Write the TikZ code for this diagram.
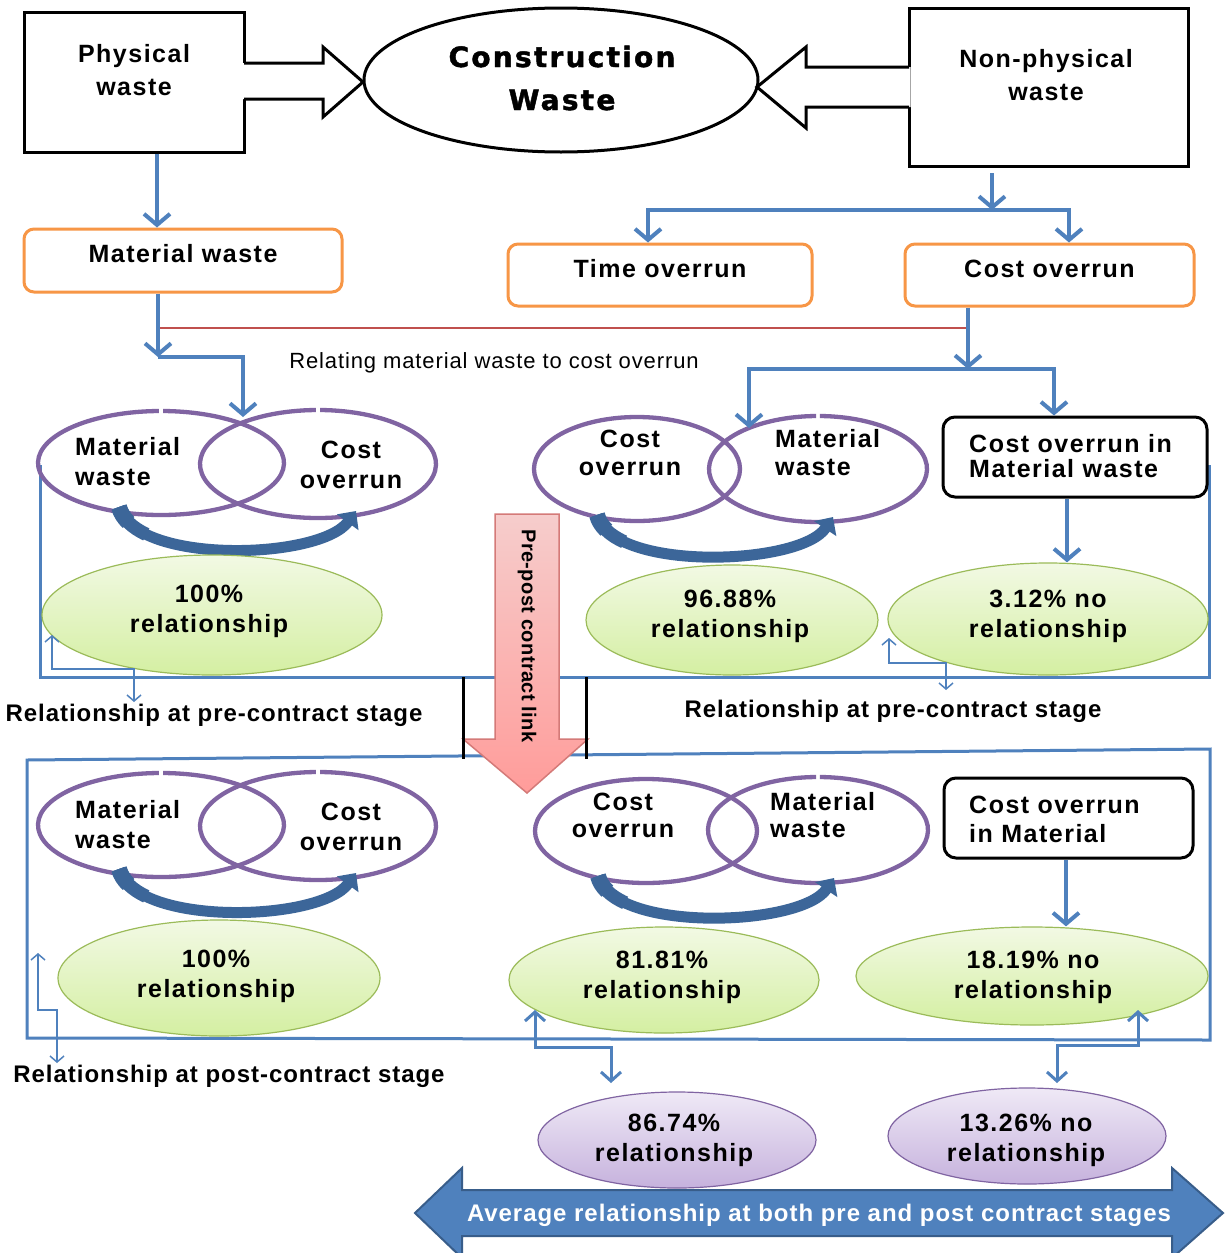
\documentclass[tikz,border=0pt]{standalone}
\usepackage{fontspec}
\setmainfont{Liberation Sans}
\newfontfamily\lsans[LetterSpace=6]{Liberation Sans}
\newfontfamily\lsansb[LetterSpace=4]{Liberation Sans}
\newfontfamily\lsansc[LetterSpace=2]{Liberation Sans}
\newfontfamily\heavyfont[LetterSpace=8,FakeBold=1.6]{DejaVu Sans}
\usetikzlibrary{arrows.meta,shapes.geometric}

\definecolor{conblue}{HTML}{4F81BD}
\definecolor{darkblue}{HTML}{385D8A}
\definecolor{arcblue}{HTML}{3C6699}
\definecolor{offorange}{HTML}{F79646}
\definecolor{vennpurple}{HTML}{8064A2}
\definecolor{linkred}{HTML}{C0504D}
\definecolor{greenline}{HTML}{9BBB59}
\definecolor{greentop}{HTML}{F2F9E4}
\definecolor{greenbot}{HTML}{D4EFA2}
\definecolor{lilactop}{HTML}{EFE9F6}
\definecolor{lilacbot}{HTML}{C6B2DD}
\definecolor{pinktop}{HTML}{F6CDCC}
\definecolor{pinkbot}{HTML}{FF9C9A}
\definecolor{pinkline}{HTML}{D47A78}

% two stacked lines; the node baseline is the first line's baseline
\newcommand\twoline[3]{\begin{tabular}[t]{@{}#1@{}}#2\\#3\end{tabular}}

\tikzset{
  txt/.style={inner sep=0pt, anchor=base, font=\lsans\bfseries\fontsize{25}{#1}\selectfont},
  txt/.default=30,
  lab/.style={inner sep=0pt, anchor=base, font=\lsansb\bfseries\fontsize{24}{28}\selectfont},
  blackbox/.style={draw=black, line width=3pt, inner sep=0pt},
  orangebox/.style={draw=offorange, line width=3pt, rounded corners=10pt, inner sep=0pt,
    text height=18pt, text depth=14pt, font=\lsans\bfseries\fontsize{25}{30}\selectfont},
  roundbox/.style={draw=black, line width=3pt, rounded corners=12pt, fill=white, inner sep=0pt},
  conn/.style={draw=conblue, line width=4pt, -{Straight Barb[length=11pt,width=26pt]}},
  thinarr/.style={draw=conblue, line width=1.5pt,
    {Straight Barb[length=6pt,width=14pt]}-{Straight Barb[length=6pt,width=14pt]}},
  medarr/.style={draw=conblue, line width=3pt,
    {Straight Barb[length=9pt,width=20pt]}-{Straight Barb[length=9pt,width=20pt]}},
  venn/.style={draw=vennpurple, line width=4.3pt},
  curv/.style={draw=arcblue, line width=11pt, -{Triangle[length=14pt,width=26pt]}},
  greenell/.style={ellipse, draw=greenline, line width=1.2pt, top color=greentop,
    bottom color=greenbot, inner sep=0pt},
  lilacell/.style={ellipse, draw=vennpurple, line width=1.2pt, top color=lilactop,
    bottom color=lilacbot, inner sep=0pt},
  stagebox/.style={draw=conblue, line width=3pt}
}

% curved link under a Venn pair, widening towards its start
\newcommand\linkarcA{%
  \draw[draw=arcblue, line width=16pt] (119,507) .. controls (120.6,512.8) and (123.9,518.0) .. (128.6,522.5);
  \draw[draw=arcblue, line width=13.5pt] (119,507) .. controls (122.2,518.6) and (132.2,527.7) .. (146.3,534.4);
  \draw[curv] (119,507) .. controls (135,565) and (320,560) .. (356,511);}
\newcommand\linkarcB{%
  \draw[draw=arcblue, line width=16pt] (597,515) .. controls (598.5,520.7) and (601.7,525.8) .. (606.4,530.2);
  \draw[draw=arcblue, line width=13.5pt] (597,515) .. controls (600,526.4) and (609.9,535.3) .. (624.1,541.8);
  \draw[curv] (597,515) .. controls (612,572) and (800,566) .. (833,517);}

\begin{document}
\begin{tikzpicture}[x=1pt, y=-1pt]
\useasboundingbox[fill=white] (0,0) rectangle (1225,1253);

% stage frames
\draw[stagebox] (40,465) -- (40,677) -- (1209,677) -- (1209,465);
\draw[stagebox] (27,760) -- (1210,749) -- (1210,1040) -- (27,1038) -- cycle;

% link between the two stages
\path[top color=pinktop, bottom color=pinkbot, draw=pinkline, line width=1.5pt]
  (495,514) -- (559,514) -- (559,739) -- (588,739) -- (527,793) -- (463,739) -- (495,739) -- cycle;
\node[rotate=-90, inner sep=0pt, font=\lsansc\bfseries\fontsize{20}{24}\selectfont] (link) at (527,636) {Pre-post contract link};
\draw[line width=3pt] (463,677) -- (463,759);
\draw[line width=3pt] (586,677) -- (586,759);

% top row
\node[blackbox, minimum width=220pt, minimum height=140pt] (pw) at (134,82) {};
\node[txt=33] (pwt) at (134,62) {\twoline{c}{Physical}{waste}};
\node[blackbox, minimum width=279pt, minimum height=158pt] (npw) at (1048.5,87) {};
\node[txt=33] (npwt) at (1046,67) {\twoline{c}{Non-physical}{waste}};

\fill[white] (242,63) -- (323,63) -- (323,47) -- (363,82) -- (323,117) -- (323,99) -- (242,99) -- cycle;
\draw[line width=3pt, line join=miter] (244,63) -- (323,63) -- (323,47) -- (363,82) -- (323,117) -- (323,99) -- (244,99);
\fill[white] (910.5,67) -- (806,67) -- (806,47) -- (757,87) -- (806,128) -- (806,107) -- (910.5,107) -- cycle;
\draw[line width=3pt, line join=miter] (909,67) -- (806,67) -- (806,47) -- (757,87) -- (806,128) -- (806,107) -- (909,107);

\node[ellipse, draw=black, line width=3pt, minimum width=394pt, minimum height=144pt, inner sep=0pt] (cw) at (561,80) {};
\node[inner sep=0pt, anchor=base, font=\heavyfont\bfseries\fontsize{28}{43}\selectfont] (cwt) at (562,67) {\twoline{c}{Construction}{Waste}};

% second row
\node[orangebox, minimum width=318pt, minimum height=63pt] (mw) at (183,260.5) {Material waste};
\node[orangebox, minimum width=304pt, minimum height=62pt] (to) at (660,275) {Time overrun};
\node[orangebox, minimum width=289pt, minimum height=62pt] (co) at (1049.5,275) {Cost overrun};

\node[lab, font=\lsansb\fontsize{22}{26}\selectfont] (rel) at (494,368) {Relating material waste to cost overrun};

% pre-contract stage
\draw[venn] (161,463) ++(271:123 and 52) arc[start angle=271, end angle=629, x radius=123, y radius=52];
\draw[venn] (318,464) ++(271:118 and 54) arc[start angle=271, end angle=629, x radius=118, y radius=54];
\linkarcA
\node[txt, anchor=base west] (v1a) at (75,455) {\twoline{l}{Material}{waste}};
\node[txt] (v1b) at (351,458) {\twoline{c}{Cost}{overrun}};

\draw[venn] (637,469) ellipse[x radius=103, y radius=52];
\draw[venn] (818,469) ++(271:109 and 53) arc[start angle=271, end angle=629, x radius=109, y radius=53];
\linkarcB
\node[txt=28] (v2a) at (630,447) {\twoline{c}{Cost}{overrun}};
\node[txt=28, anchor=base west] (v2b) at (775,447) {\twoline{l}{Material}{waste}};

\node[roundbox, minimum width=264pt, minimum height=80pt] (cb1) at (1075,457) {};
\node[txt=25, anchor=base west] (cb1t) at (969,452) {\twoline{l}{Cost overrun in}{Material waste}};

\node[greenell, minimum width=340pt, minimum height=120pt] (g1) at (212,615) {};
\node[txt] (g1t) at (209,602) {\twoline{c}{100\%}{relationship}};
\node[greenell, minimum width=292pt, minimum height=110pt] (g2) at (732,620) {};
\node[txt] (g2t) at (730,607) {\twoline{c}{96.88\%}{relationship}};
\node[greenell, minimum width=320pt, minimum height=112pt] (g3) at (1048,619) {};
\node[txt] (g3t) at (1048,607) {\twoline{c}{3.12\% no}{relationship}};

\node[lab] (pre1) at (214,721) {Relationship at pre-contract stage};
\node[lab] (pre2) at (893,717) {Relationship at pre-contract stage};

% post-contract stage
\draw[venn] (161,825) ++(271:123 and 52) arc[start angle=271, end angle=629, x radius=123, y radius=52];
\draw[venn] (318,826) ++(271:118 and 54) arc[start angle=271, end angle=629, x radius=118, y radius=54];
\begin{scope}[shift={(0,362)}]
  \linkarcA
\end{scope}
\node[txt, anchor=base west] (v3a) at (75,818) {\twoline{l}{Material}{waste}};
\node[txt] (v3b) at (351,820) {\twoline{c}{Cost}{overrun}};

\draw[venn] (646,831) ellipse[x radius=111, y radius=52];
\draw[venn] (818,830) ++(271:110 and 53) arc[start angle=271, end angle=629, x radius=110, y radius=53];
\begin{scope}[shift={(1,361)}]
  \linkarcB
\end{scope}
\node[txt=27] (v4a) at (623,810) {\twoline{c}{Cost}{overrun}};
\node[txt=27, anchor=base west] (v4b) at (770,810) {\twoline{l}{Material}{waste}};

\node[roundbox, minimum width=249pt, minimum height=80pt] (cb2) at (1068.5,818) {};
\node[txt=29, anchor=base west] (cb2t) at (969,813) {\twoline{l}{Cost overrun}{in Material}};

\node[greenell, minimum width=322pt, minimum height=116pt] (g4) at (219,978) {};
\node[txt] (g4t) at (216,967) {\twoline{c}{100\%}{relationship}};
\node[greenell, minimum width=310pt, minimum height=106pt] (g5) at (664,980) {};
\node[txt] (g5t) at (662,968) {\twoline{c}{81.81\%}{relationship}};
\node[greenell, minimum width=352pt, minimum height=98pt] (g6) at (1032,976) {};
\node[txt] (g6t) at (1033,968) {\twoline{c}{18.19\% no}{relationship}};

\node[lab] (post) at (229,1082) {Relationship at post-contract stage};

% averages
\node[lilacell, minimum width=278pt, minimum height=96pt] (p1) at (677,1140) {};
\node[txt] (p1t) at (674,1131) {\twoline{c}{86.74\%}{relationship}};
\node[lilacell, minimum width=278pt, minimum height=96pt] (p2) at (1027,1136) {};
\node[txt] (p2t) at (1026,1131) {\twoline{c}{13.26\% no}{relationship}};

\path[fill=conblue, draw=darkblue, line width=2pt]
  (415,1213) -- (462,1168) -- (462,1190) -- (1172,1190) -- (1172,1168) -- (1223,1213)
  -- (1172,1258) -- (1172,1236) -- (462,1236) -- (462,1258) -- cycle;
\node[lab, text=white] (avg) at (819,1221) {Average relationship at both pre and post contract stages};

% connector points
\coordinate (xA) at (157,0);
\coordinate (npo) at (992,173);
\coordinate (spl) at (992,210);
\coordinate (xT) at (648,0);
\coordinate (xK) at (1069,0);
\coordinate (xM) at (158,0);
\coordinate (mj) at (158,357);
\coordinate (vin1) at (243,417);
\coordinate (r1) at (158,328);
\coordinate (r2) at (968,328);
\coordinate (xC) at (968,0);
\coordinate (cj) at (968,369);
\coordinate (vin2) at (749,428);
\coordinate (xB) at (1054,0);
\coordinate (xD) at (1067,0);
\coordinate (xE) at (1066,0);
\coordinate (s1a) at (52,635);
\coordinate (s1b) at (134,702);
\coordinate (s2a) at (889,638);
\coordinate (s2b) at (946,690);
\coordinate (s3a) at (38,953);
\coordinate (s3b) at (57,1063);
\coordinate (m1a) at (535,1010);
\coordinate (m1b) at (611,1083);
\coordinate (m2a) at (1138,1010);
\coordinate (m2b) at (1057,1083);

% connectors
\draw[conn] (pw.south -| xA) -- (mw.north -| xA);
\draw[conn] (npo) -- (spl);
\draw[conn] (spl) -| (to.north -| xT);
\draw[conn] (spl) -| (co.north -| xK);
\draw[draw=linkred, line width=2pt] (r1) -- (r2);
\draw[conn] (mw.south -| xM) -- (mj);
\draw[conn] (mj) -| (vin1);
\draw[conn] (co.south -| xC) -- (cj);
\draw[conn] (cj) -| (vin2);
\draw[conn] (cj) -| (cb1.north -| xB);
\draw[conn] (cb1.south -| xD) -- (g3.north -| xD);
\draw[conn] (cb2.south -| xE) -- (g6.north -| xE);

\draw[thinarr] (s1a) -- ++(0,34) -| (s1b);
\draw[thinarr] (s2a) -- ++(0,25) -| (s2b);
\draw[thinarr] (s3a) -- ++(0,57) -| (s3b);
\draw[medarr] (m1a) -- ++(0,37) -| (m1b);
\draw[medarr] (m2a) -- ++(0,35) -| (m2b);
\end{tikzpicture}
\end{document}
